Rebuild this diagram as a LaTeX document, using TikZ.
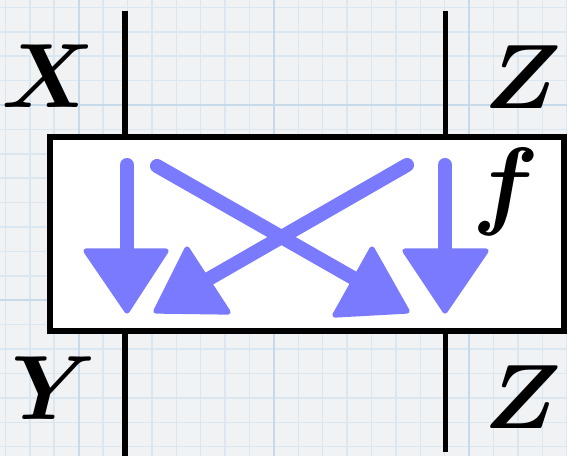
\RequirePackage{fix-cm}
\documentclass[tikz,border=0pt]{standalone}
\usepackage{bm}
\usetikzlibrary{positioning}
\definecolor{chalk}{RGB}{122,122,255}
\definecolor{paper}{RGB}{240,242,243}
\definecolor{gridminor}{RGB}{218,230,240}
\definecolor{gridmajor}{RGB}{198,218,234}
\begin{document}
\begin{tikzpicture}[x=0.02cm,y=-0.02cm,
  wire/.style={line width=2.85pt},
  lbl/.style={inner sep=0pt,font=\fontsize{52}{60}\selectfont},
  chalkline/.style={draw=chalk,line width=8pt,line cap=round},
  chalkhead/.style={fill=chalk,draw=chalk,line width=3pt,line join=round}]
  \useasboundingbox (0,0) rectangle (567,456);
  \fill[paper] (0,0) rectangle (567,456);
  \foreach \k in {0,...,23} \draw[gridminor,line width=0.8pt] ({5.4+24.4*\k},0) -- ++(0,456);
  \foreach \k in {0,...,18} \draw[gridminor,line width=0.8pt] (0,{7.4+24.4*\k}) -- ++(567,0);
  \foreach \k in {3,11,19} \draw[gridmajor,line width=1.2pt] ({5.4+24.4*\k},0) -- ++(0,456);
  \foreach \k in {4,12} \draw[gridmajor,line width=1.2pt] (0,{7.4+24.4*\k}) -- ++(567,0);
  \node[draw,fill=white,line width=3.4pt,minimum width=10.28cm,minimum height=3.89cm,inner sep=0pt] (fbox) at (307,233.75) {};
  \coordinate (xin) at (125,11);
  \coordinate (yout) at (125,456);
  \coordinate (zin) at (445,11);
  \coordinate (zout) at (445,452);
  \draw[wire] (xin) -- (xin |- fbox.north);
  \draw[wire] (zin) -- (zin |- fbox.north);
  \draw[wire] (yout) -- (yout |- fbox.south);
  \draw[wire] (zout) -- (zout |- fbox.south);
  \node[lbl] (labX) at (48,76) {$\bm{X}$};
  \node[lbl] (labZin) at (523,77) {$\bm{Z}$};
  \node[lbl] (labY) at (54,388) {$\bm{Y}$};
  \node[lbl] (labZout) at (523,397) {$\bm{Z}$};
  \node[lbl,font=\fontsize{56}{64}\selectfont] (labf) at (506,192) {$\bm{f}$};
  \draw[chalkline] (127,165) -- (127,252);
  \draw[chalkline] (445,165) -- (445,252);
  \draw[chalkline] (157,166) -- (362,283);
  \draw[chalkline] (407,165) -- (205,281);
  \filldraw[chalkhead] (86,251) -- (166,251) -- (127,311) -- cycle;
  \filldraw[chalkhead] (405,251) -- (486,251) -- (445,311) -- cycle;
  \filldraw[chalkhead] (187,249) -- (228,312) -- (156,311) -- cycle;
  \filldraw[chalkhead] (372,249) -- (407,311) -- (335,315) -- cycle;
\end{tikzpicture}
\end{document}
